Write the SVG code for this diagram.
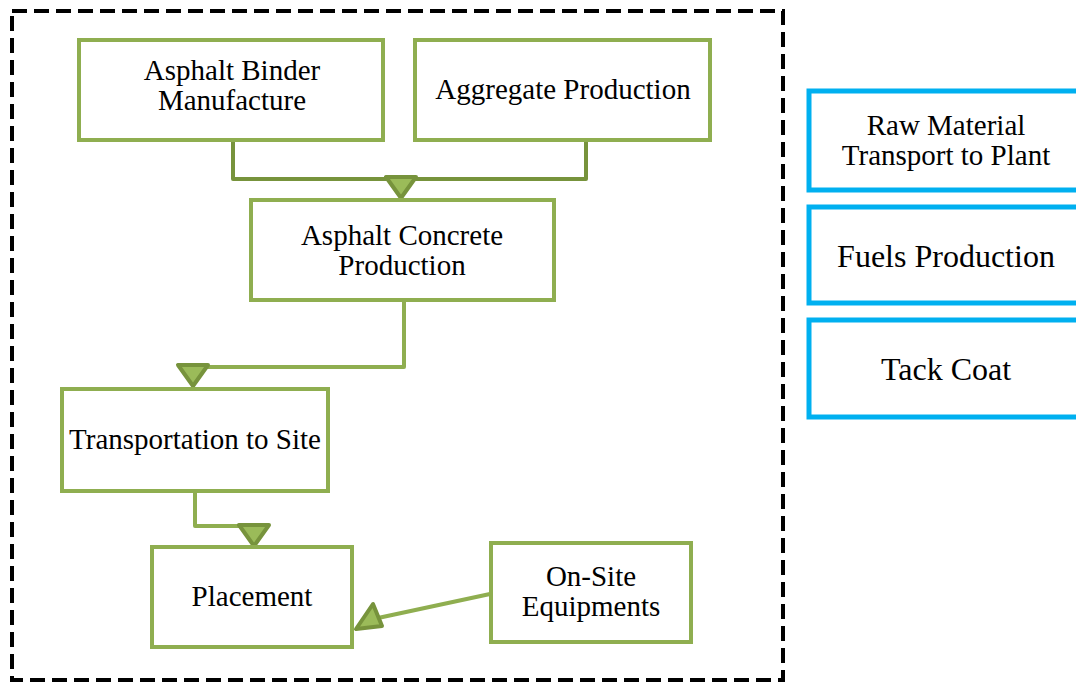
<svg xmlns="http://www.w3.org/2000/svg" width="1076" height="683" viewBox="0 0 1076 683">
<defs>
<style>
.g{fill:#fff;stroke:#8fae50;stroke-width:4}
.b{fill:#fff;stroke:#00b0f0;stroke-width:5}
.t{font-family:"Liberation Serif","Times New Roman",serif;font-size:29px;fill:#000;text-anchor:middle}
.L{font-size:32px}
.c{fill:none;stroke-width:4;stroke-linejoin:round;stroke-linecap:round}
.tri{fill:#9bbb59;stroke:#77933c;stroke-width:4;stroke-linejoin:round}
</style>
</defs>
<rect x="12" y="11" width="771" height="669" fill="none" stroke="#000" stroke-width="4" stroke-dasharray="15,7"/>
<g id="connectors">
<polyline class="c" stroke="#77933c" points="233,141 233,179 586,179 586,141"/>
<polygon class="tri" points="386,177 416,177 401,198"/>
<polyline class="c" stroke="#8fae50" points="404,301 404,367 205,367"/>
<polygon class="tri" points="178,365 208,365 193,386"/>
<polyline class="c" stroke="#8fae50" points="195,492 195,526 240,526"/>
<polygon class="tri" points="239,525 269,525 254,546"/>
<line class="c" stroke="#8fae50" x1="490" y1="594" x2="378" y2="618"/>
<polygon class="tri" points="373,604 356,629 382,626"/>
</g>
<g id="binder"><rect class="g" x="79" y="40" width="304" height="100"/><text class="t" x="232" y="80">Asphalt Binder</text><text class="t" x="232" y="110">Manufacture</text></g>
<g id="aggregate"><rect class="g" x="415" y="40" width="295" height="100"/><text class="t" x="563" y="99">Aggregate Production</text></g>
<g id="concrete"><rect class="g" x="251" y="200" width="303" height="100"/><text class="t" x="402" y="245">Asphalt Concrete</text><text class="t" x="402" y="275">Production</text></g>
<g id="transport"><rect class="g" x="62" y="389" width="266" height="102"/><text class="t" x="195" y="449">Transportation to Site</text></g>
<g id="placement"><rect class="g" x="152" y="547" width="200" height="100"/><text class="t" x="252" y="606">Placement</text></g>
<g id="onsite"><rect class="g" x="491" y="543" width="200" height="99"/><text class="t" x="591" y="586">On-Site</text><text class="t" x="591" y="616">Equipments</text></g>
<g id="rawmat"><rect class="b" x="809" y="91" width="280" height="99"/><text class="t" x="946" y="135">Raw Material</text><text class="t" x="946" y="165">Transport to Plant</text></g>
<g id="fuels"><rect class="b" x="809" y="207" width="280" height="96"/><text class="t L" x="946" y="267">Fuels Production</text></g>
<g id="tack"><rect class="b" x="809" y="320" width="280" height="97"/><text class="t L" x="946" y="380">Tack Coat</text></g>
</svg>
